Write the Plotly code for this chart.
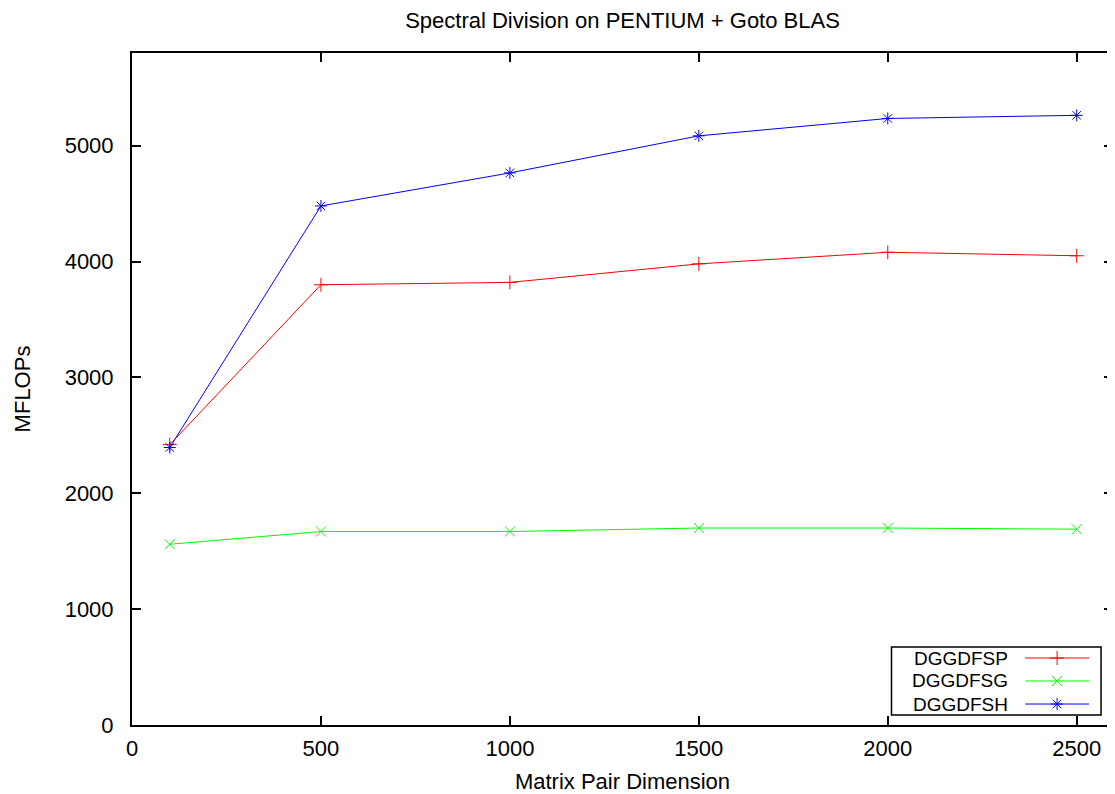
import plotly.graph_objects as go

# matrix pair dimension
sizes = [100, 500, 1000, 1500, 2000, 2500]

# MFLOPs per routine
dggdfsp = [2420, 3800, 3820, 3980, 4080, 4050]
dggdfsg = [1560, 1670, 1670, 1700, 1700, 1690]
dggdfsh = [2395, 4480, 4765, 5085, 5235, 5262]

series_names = ["DGGDFSP", "DGGDFSG", "DGGDFSH"]
series_colors = ["#ff0000", "#00ff00", "#0000ff"]
series_symbols = ["cross-thin-open", "x-thin-open", "asterisk-open"]

FONT = "Liberation Sans, Arial, sans-serif"
FS = 22

fig = go.Figure()

for name, vals, col, sym in zip(series_names, [dggdfsp, dggdfsg, dggdfsh],
                                series_colors, series_symbols):
    fig.add_trace(go.Scatter(
        x=sizes, y=vals, name=name, mode="lines+markers",
        line=dict(color=col, width=1),
        marker=dict(symbol=sym, size=10, line=dict(color=col, width=1)),
        showlegend=False,
    ))

# gnuplot style key: text on the left, sample on the right (overlay axes in paper units)
key_rows = [0.0997, 0.0655, 0.0312]
for name, col, sym, ky in zip(series_names, series_colors, series_symbols, key_rows):
    fig.add_trace(go.Scatter(
        x=[0.9105, 0.9430, 0.9756], y=[ky, ky, ky], xaxis="x2", yaxis="y2",
        mode="lines+markers", line=dict(color=col, width=1),
        marker=dict(symbol=sym, size=10, opacity=[0, 1, 0],
                    line=dict(color=col, width=1)),
        showlegend=False, hoverinfo="skip",
    ))
    fig.add_annotation(x=0.8952, y=ky, xref="paper", yref="paper", text=name,
                       showarrow=False, xanchor="right", yanchor="middle",
                       font=dict(family=FONT, size=19, color="black"))

fig.add_shape(type="rect", xref="paper", yref="paper",
              x0=0.7742, x1=0.9878, y0=0.0149, y1=0.1161,
              line=dict(color="black", width=1.5), fillcolor="white", layer="below")

axis_common = dict(
    showline=True, linecolor="black", linewidth=2, mirror="ticks",
    ticks="inside", ticklen=9, tickwidth=1.5, tickcolor="black",
    showgrid=False, zeroline=False,
    tickfont=dict(family=FONT, size=FS, color="black"),
)

# the page body adds an 8px offset, so the figure is sized to fit the window
fig.update_layout(
    width=1107, height=786,
    paper_bgcolor="white", plot_bgcolor="white",
    margin=dict(l=124, r=0, t=45, b=69),
    font=dict(family=FONT, size=FS, color="black"),
    title=dict(text="Spectral Division on PENTIUM + Goto BLAS",
               x=0.5, xref="paper", xanchor="center",
               y=1 - 12 / 786, yanchor="middle",
               font=dict(family=FONT, size=FS, color="black")),
    xaxis=dict(range=[0, 2596], tickvals=[0, 500, 1000, 1500, 2000, 2500],
               ticklabelstandoff=3,
               title=dict(text="Matrix Pair Dimension", standoff=13,
                          font=dict(family=FONT, size=FS)),
               **axis_common),
    yaxis=dict(range=[0, 5800], tickvals=[0, 1000, 2000, 3000, 4000, 5000],
               ticklabelstandoff=12,
               title=dict(text="MFLOPs", standoff=28,
                          font=dict(family=FONT, size=FS)),
               **axis_common),
    xaxis2=dict(overlaying="x", range=[0, 1], visible=False, domain=[0, 1]),
    yaxis2=dict(overlaying="y", range=[0, 1], visible=False, domain=[0, 1]),
)

fig.write_html("out.html")
